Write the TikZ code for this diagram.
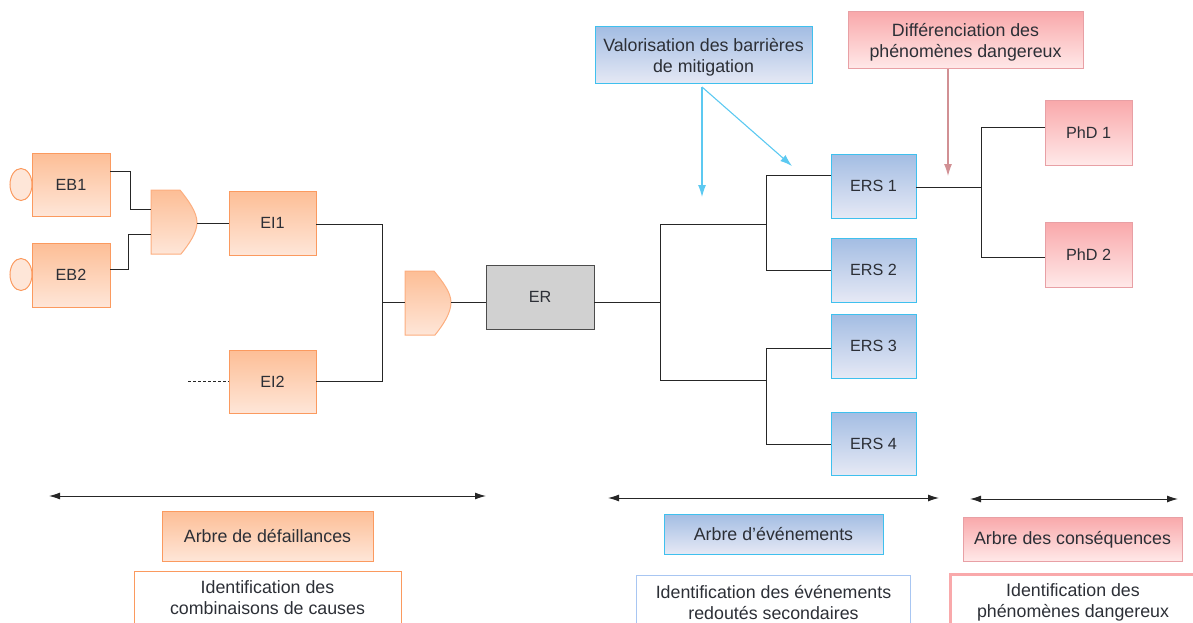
\documentclass[tikz,border=0pt]{standalone}
\usepackage{fontspec}
\setmainfont{Liberation Sans}
\usetikzlibrary{arrows.meta}
\definecolor{ink}{HTML}{2C2F36}
\definecolor{oline}{HTML}{FB9A5F}
\definecolor{otop}{HTML}{FDBE96}
\definecolor{obot}{HTML}{FEE6D8}
\definecolor{bline}{HTML}{3FC0EE}
\definecolor{btop}{HTML}{A3BDE3}
\definecolor{bbot}{HTML}{E6E9F5}
\definecolor{pline}{HTML}{E8A0A5}
\definecolor{ptop}{HTML}{F9A9AB}
\definecolor{pbot}{HTML}{FFE9E9}
\definecolor{fline}{HTML}{A8C6F2}
\tikzset{
  base/.style={draw,line width=1pt,minimum width=#1,outer sep=0pt,inner sep=0pt,align=center,text=ink,font=\fontsize{16.2}{21}\selectfont},
  obox/.style 2 args={base=#1,minimum height=#2,draw=oline,top color=otop,bottom color=obot},
  bbox/.style 2 args={base=#1,minimum height=#2,draw=bline,top color=btop,bottom color=bbot},
  pbox/.style 2 args={base=#1,minimum height=#2,draw=pline,top color=ptop,bottom color=pbot},
  gbox/.style 2 args={base=#1,minimum height=#2,draw=black!70,fill=black!18},
  big/.style={font=\fontsize{17.8}{21}\selectfont},
  gatepath/.style={draw=oline!80,line width=1pt,top color=otop,bottom color=obot},
  wire/.style={draw=black!85,line width=.9pt},
  span/.style={draw=black!85,line width=.9pt,{Latex[length=11pt,width=7pt]}-{Latex[length=11pt,width=7pt]}},
  bluearrow/.style={draw=bline!85,line width=1.1pt,-{Latex[length=12pt,width=8pt]}},
  pinkarrow/.style={draw=pline!90!black,line width=1.1pt,-{Latex[length=12pt,width=8pt]}},
  textonly/.style={align=center,inner sep=0pt,text=ink,font=\fontsize{17.8}{21}\selectfont},
}
\newcommand{\lowerfirst}{\rule{0pt}{16.5pt}}
\begin{document}
\begin{tikzpicture}[x=1pt,y=-1pt]
\useasboundingbox (0,0) rectangle (1193,623);
\clip (0,0) rectangle (1193,623);
% beads
\draw[draw=oline,line width=1pt,fill=obot] (21,184.5) ellipse [x radius=11,y radius=16];
\draw[draw=oline,line width=1pt,fill=obot] (21,274.5) ellipse [x radius=11,y radius=16];
% nodes
\node[obox={78pt}{63pt}] (eb1) at (71,184.5) {EB1};
\node[obox={78pt}{64pt}] (eb2) at (71,275) {EB2};
\node[obox={87pt}{64pt}] (ei1) at (272.5,223) {EI1};
\node[obox={87pt}{63pt}] (ei2) at (272.5,381.5) {EI2};
\node[gbox={108pt}{64pt}] (er) at (540,297) {ER};
\node[bbox={85pt}{64pt}] (ers1) at (873.5,186) {ERS 1};
\node[bbox={85pt}{64pt}] (ers2) at (873.5,270) {ERS 2};
\node[bbox={85pt}{64pt}] (ers3) at (873.5,346) {ERS 3};
\node[bbox={85pt}{63pt}] (ers4) at (873.5,443.5) {ERS 4};
\node[pbox={87pt}{64pt}] (phd1) at (1088.5,133) {PhD 1};
\node[pbox={87pt}{65pt}] (phd2) at (1088.5,255) {PhD 2};
\node[bbox={217pt}{57pt},big] (val) at (703.5,55.5) {\lowerfirst Valorisation des barrières\\de mitigation};
\node[pbox={235pt}{57pt},big] (dif) at (965.5,40.5) {\lowerfirst Différenciation des\\phénomènes dangereux};
\node[obox={211pt}{50pt},big] (af) at (267.5,536) {Arbre de défaillances};
\node[bbox={219pt}{40pt},big] (ae) at (773.5,534) {Arbre d’événements};
\node[pbox={219pt}{44pt},big] (ac) at (1072.5,539.5) {Arbre des conséquences};
% bottom frames, cut by the edge of the picture
\draw[draw=oline,line width=1pt] (134,640) |- (401,571) -- (401,640);
\draw[draw=fline,line width=1pt] (636,640) |- (910,575.5) -- (910,640);
\draw[draw=ptop,line width=3pt] (950,640) |- (1200,574);
\node[textonly] (t1) at (267.5,598) {Identification des\\combinaisons de causes};
\node[textonly] (t2) at (773.5,603) {Identification des événements\\redoutés secondaires};
\node[textonly] (t3) at (1073,602) {Identification des\\phénomènes dangereux};
% gates
\path[gatepath] (151,190) -- (180,190) .. controls (188,200) and (197,212) .. (197,222.5) .. controls (197,233) and (189,244) .. (181,254) -- (151,254) -- cycle;
\path[gatepath] (405,271) -- (434,271) .. controls (442,281) and (451,292) .. (451,302.5) .. controls (451,313) and (443,325) .. (435,335) -- (405,335) -- cycle;
\coordinate (g1a) at (151,209);
\coordinate (g1b) at (151,234);
\coordinate (g1o) at (197,223);
\coordinate (g2i) at (405,302);
\coordinate (g2o) at (451,302);
% junctions
\coordinate (j1) at (130,171);
\coordinate (j2) at (128,269);
\coordinate (ja) at (382,224);
\coordinate (jb) at (382,381);
\coordinate (jc) at (660,302);
\coordinate (jd) at (660,224);
\coordinate (je) at (660,380);
\coordinate (jf) at (766,175);
\coordinate (jg) at (766,270);
\coordinate (jh) at (766,348);
\coordinate (ji) at (766,444);
\coordinate (jk) at (981,187);
\coordinate (jl) at (981,127);
\coordinate (jm) at (981,257);
\coordinate (dashstart) at (188,381);
% wires
\draw[wire] (eb1.east |- j1) -- (j1) |- (g1a);
\draw[wire] (eb2.east |- j2) -- (j2) |- (g1b);
\draw[wire] (g1o) -- (ei1.west |- g1o);
\draw[wire] (ei1.east |- ja) -- (ja) -- (jb) -- (ei2.east |- jb);
\draw[wire] (ja |- g2i) -- (g2i);
\draw[wire] (g2o) -- (er.west |- g2o);
\draw[wire] (er.east |- jc) -- (jc);
\draw[wire] (jf |- jd) -- (jd) -- (je) -- (ji |- je);
\draw[wire] (ers1.west |- jf) -- (jf) -- (jg) -- (ers2.west |- jg);
\draw[wire] (ers3.west |- jh) -- (jh) -- (ji) -- (ers4.west |- ji);
\draw[wire] (ers1.east |- jk) -- (jk);
\draw[wire] (phd1.west |- jl) -- (jl) -- (jm) -- (phd2.west |- jm);
\draw[wire,densely dashed,line width=.8pt] (dashstart) -- (ei2.west |- dashstart);
% spans
\coordinate (s1a) at (49,496); \coordinate (s1b) at (486,496);
\coordinate (s2a) at (608,498); \coordinate (s2b) at (939,498);
\coordinate (s3a) at (970,499); \coordinate (s3b) at (1178,499);
\draw[span] (s1a) -- (s1b);
\draw[span] (s2a) -- (s2b);
\draw[span] (s3a) -- (s3b);
% callout arrows
\coordinate (vo) at (702,87);
\coordinate (va) at (702,197);
\coordinate (vb) at (792,166);
\coordinate (da) at (948,176);
\draw[bluearrow] (vo) -- (va);
\draw[bluearrow] (vo) -- (vb);
\draw[pinkarrow] (dif.south -| da) -- (da);
\end{tikzpicture}
\end{document}
